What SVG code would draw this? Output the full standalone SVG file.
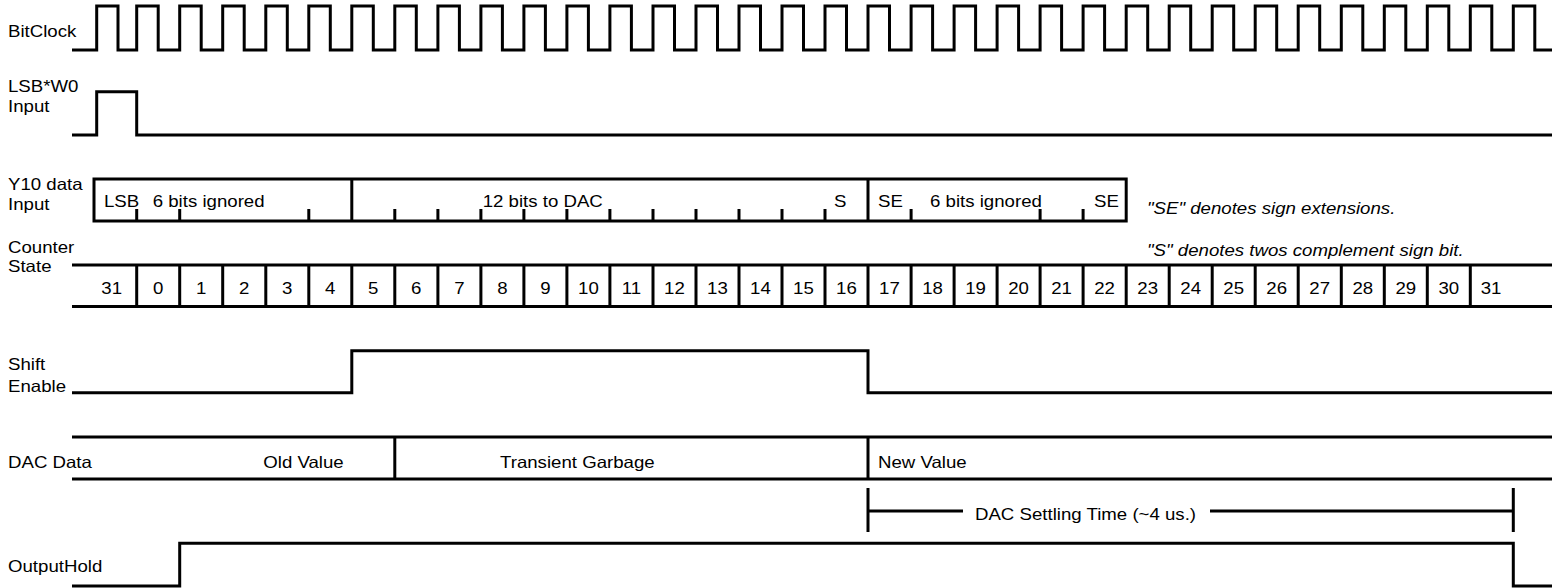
<svg xmlns="http://www.w3.org/2000/svg" width="1552" height="588" viewBox="0 0 1552 588">
<style>
.w{fill:none;stroke:#000;stroke-width:3;stroke-linejoin:miter}
.k{fill:none;stroke:#000;stroke-width:3}
.t{font-family:"Liberation Sans",Arial,Helvetica,sans-serif;font-size:16.5px;fill:#000;transform:scaleX(1.13);transform-box:fill-box;transform-origin:left center}
.m{text-anchor:middle;transform-origin:center}
.i{font-style:italic}
</style>
<rect width="1552" height="588" fill="#fff"/>
<g id="bitclock">
<text class="t" x="8" y="37">BitClock</text>
<path class="w" d="M72,50H96.7V6H118V50H136.7V6H158.2V50H179.7V6H201.2V50H222.7V6H244.2V50H265.8V6H287.3V50H308.8V6H330.3V50H351.8V6H373.3V50H394.8V6H416.3V50H437.9V6H459.4V50H480.9V6H502.4V50H523.9V6H545.4V50H566.9V6H588.4V50H609.9V6H631.4V50H653V6H674.5V50H696V6H717.5V50H739V6H760.5V50H782V6H803.5V50H825V6H846.5V50H868V6H889.5V50H911.1V6H932.6V50H954.1V6H975.6V50H997.1V6H1018.6V50H1040.1V6H1061.6V50H1083.1V6H1104.6V50H1126.2V6H1147.7V50H1169.2V6H1190.7V50H1212.2V6H1233.7V50H1255.2V6H1276.7V50H1298.2V6H1319.7V50H1341.3V6H1362.8V50H1384.3V6H1405.8V50H1427.3V6H1448.8V50H1470.3V6H1491.8V50H1513.3V6H1534.8V50H1552"/>
</g>
<g id="lsbw0">
<text class="t" x="8" y="92">LSB*W0</text>
<text class="t" x="8" y="112">Input</text>
<path class="w" d="M72,135H96.7V91.7H136.7V135H1552"/>
</g>
<g id="y10">
<text class="t" x="8" y="190">Y10 data</text>
<text class="t" x="8" y="210">Input</text>
<rect class="w" x="94" y="179" width="1032.2" height="42"/>
<path class="k" d="M351.8,179V221M868,179V221"/>
<path class="k" d="M136.7,209V221M179.7,209V221M308.8,209V221M394.8,209V221M437.9,209V221M480.9,209V221M523.9,209V221M566.9,209V221M609.9,209V221M653,209V221M696,209V221M739,209V221M782,209V221M825,209V221M911.1,209V221M1040.1,209V221M1083.1,209V221"/>
<text class="t" x="104" y="207.5">LSB</text>
<text class="t" x="152.7" y="207.5">6 bits ignored</text>
<text class="t" x="482.7" y="207.5">12 bits to DAC</text>
<text class="t" x="834" y="207.5">S</text>
<text class="t" x="878" y="207.5">SE</text>
<text class="t" x="930" y="207.5">6 bits ignored</text>
<text class="t" x="1094" y="207.5">SE</text>
<text class="t i" x="1147" y="214">"SE" denotes sign extensions.</text>
<text class="t i" x="1147" y="256">"S" denotes twos complement sign bit.</text>
</g>
<g id="counter">
<text class="t" x="8" y="253">Counter</text>
<text class="t" x="8" y="272">State</text>
<path class="k" d="M72,265H1552M72,306.5H1552"/>
<path class="k" d="M136.7,265V306.5M179.7,265V306.5M222.7,265V306.5M265.8,265V306.5M308.8,265V306.5M351.8,265V306.5M394.8,265V306.5M437.9,265V306.5M480.9,265V306.5M523.9,265V306.5M566.9,265V306.5M609.9,265V306.5M653,265V306.5M696,265V306.5M739,265V306.5M782,265V306.5M825,265V306.5M868,265V306.5M911.1,265V306.5M954.1,265V306.5M997.1,265V306.5M1040.1,265V306.5M1083.1,265V306.5M1126.2,265V306.5M1169.2,265V306.5M1212.2,265V306.5M1255.2,265V306.5M1298.2,265V306.5M1341.3,265V306.5M1384.3,265V306.5M1427.3,265V306.5M1470.3,265V306.5"/>
<text class="t m" x="111.7" y="294.5">31</text>
<text class="t m" x="158.2" y="294.5">0</text>
<text class="t m" x="201.2" y="294.5">1</text>
<text class="t m" x="244.2" y="294.5">2</text>
<text class="t m" x="287.3" y="294.5">3</text>
<text class="t m" x="330.3" y="294.5">4</text>
<text class="t m" x="373.3" y="294.5">5</text>
<text class="t m" x="416.3" y="294.5">6</text>
<text class="t m" x="459.4" y="294.5">7</text>
<text class="t m" x="502.4" y="294.5">8</text>
<text class="t m" x="545.4" y="294.5">9</text>
<text class="t m" x="588.4" y="294.5">10</text>
<text class="t m" x="631.4" y="294.5">11</text>
<text class="t m" x="674.5" y="294.5">12</text>
<text class="t m" x="717.5" y="294.5">13</text>
<text class="t m" x="760.5" y="294.5">14</text>
<text class="t m" x="803.5" y="294.5">15</text>
<text class="t m" x="846.5" y="294.5">16</text>
<text class="t m" x="889.5" y="294.5">17</text>
<text class="t m" x="932.6" y="294.5">18</text>
<text class="t m" x="975.6" y="294.5">19</text>
<text class="t m" x="1018.6" y="294.5">20</text>
<text class="t m" x="1061.6" y="294.5">21</text>
<text class="t m" x="1104.6" y="294.5">22</text>
<text class="t m" x="1147.7" y="294.5">23</text>
<text class="t m" x="1190.7" y="294.5">24</text>
<text class="t m" x="1233.7" y="294.5">25</text>
<text class="t m" x="1276.7" y="294.5">26</text>
<text class="t m" x="1319.7" y="294.5">27</text>
<text class="t m" x="1362.8" y="294.5">28</text>
<text class="t m" x="1405.8" y="294.5">29</text>
<text class="t m" x="1448.8" y="294.5">30</text>
<text class="t m" x="1491" y="294.5">31</text>
</g>
<g id="shiftenable">
<text class="t" x="8" y="370">Shift</text>
<text class="t" x="8" y="392">Enable</text>
<path class="w" d="M72,392.7H351.8V350.7H868V392.7H1552"/>
</g>
<g id="dacdata">
<text class="t" x="8" y="468">DAC Data</text>
<path class="k" d="M72,437H1552M72,479H1552M394.8,437V479M868,437V479"/>
<text class="t" x="263.3" y="468">Old Value</text>
<text class="t" x="500" y="468">Transient Garbage</text>
<text class="t" x="878" y="468">New Value</text>
</g>
<g id="connectors">
<path class="k" d="M868,488V532M1513.3,488V532M868,511H963M1210,511H1513.3"/>
<text class="t" x="975" y="520">DAC Settling Time (~4 us.)</text>
</g>
<g id="outputhold">
<text class="t" x="8" y="572">OutputHold</text>
<path class="w" d="M72,586H179.7V543.3H1513.3V586H1552"/>
</g>
</svg>
